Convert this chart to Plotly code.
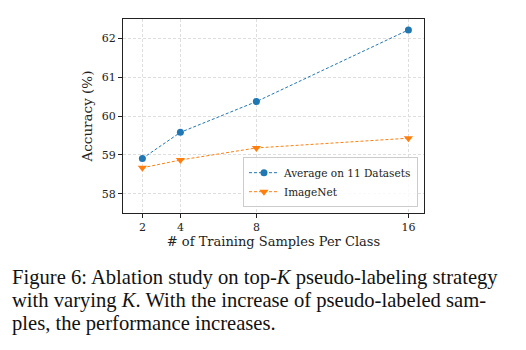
import plotly.graph_objects as go

shots = [2, 4, 8, 16]
avg_11 = [58.91, 59.58, 60.37, 62.21]
imagenet = [58.67, 58.87, 59.18, 59.43]
yticks = [58, 59, 60, 61, 62]
caption = [
    "Figure 6: Ablation study on top-<i>K</i> pseudo-labeling strategy",
    "with varying <i>K</i>. With the increase of pseudo-labeled sam-",
    "ples, the performance increases.",
]

fig = go.Figure()
fig.add_trace(go.Scatter(
    x=shots, y=avg_11, name="Average on 11 Datasets", mode="lines+markers",
    line=dict(color="#1f77b4", width=1, dash="3px,2px"),
    marker=dict(symbol="circle", size=7, color="#1f77b4"),
))
fig.add_trace(go.Scatter(
    x=shots, y=imagenet, name="ImageNet", mode="lines+markers",
    line=dict(color="#ff7f0e", width=1, dash="3px,2px"),
    marker=dict(symbol="triangle-down", size=8, color="#ff7f0e"),
))

axis_common = dict(
    showline=True, linecolor="#222", linewidth=1, mirror=True,
    ticks="outside", ticklen=4, tickcolor="#222",
    showgrid=True, gridcolor="#dedede", griddash="3px,2px", gridwidth=0.8,
    zeroline=False,
    tickfont=dict(family="DejaVu Serif", size=11, color="#222"),
)
fig.update_xaxes(
    tickvals=shots, range=[0.98, 16.82],
    title=dict(text="# of Training Samples Per Class", standoff=2,
               font=dict(family="DejaVu Serif", size=13, color="#222")),
    **axis_common,
)
fig.update_yaxes(
    tickvals=yticks, range=[57.51, 62.49],
    title=dict(text="Accuracy (%)", standoff=6,
               font=dict(family="DejaVu Serif", size=13.5, color="#222")),
    **axis_common,
)

for i, line in enumerate(caption):
    fig.add_annotation(
        text=line, xref="paper", yref="paper", x=-113 / 301, y=(350 - 277 - 23 * i) / 194 - 137 / 194,
        xanchor="left", yanchor="middle", showarrow=False,
        font=dict(family="Liberation Serif", size=20.6, color="#111"),
    )

fig.update_layout(
    width=526, height=350,
    margin=dict(l=123, r=102, t=19, b=137),
    paper_bgcolor="white", plot_bgcolor="white",
    legend=dict(
        x=0.98, y=0.03, xanchor="right", yanchor="bottom",
        bgcolor="rgba(255,255,255,0.85)", bordercolor="#cccccc", borderwidth=1,
        font=dict(family="DejaVu Serif", size=10.5, color="#222"),
        tracegroupgap=0, itemwidth=30,
    ),
)

fig.write_html("out.html")
